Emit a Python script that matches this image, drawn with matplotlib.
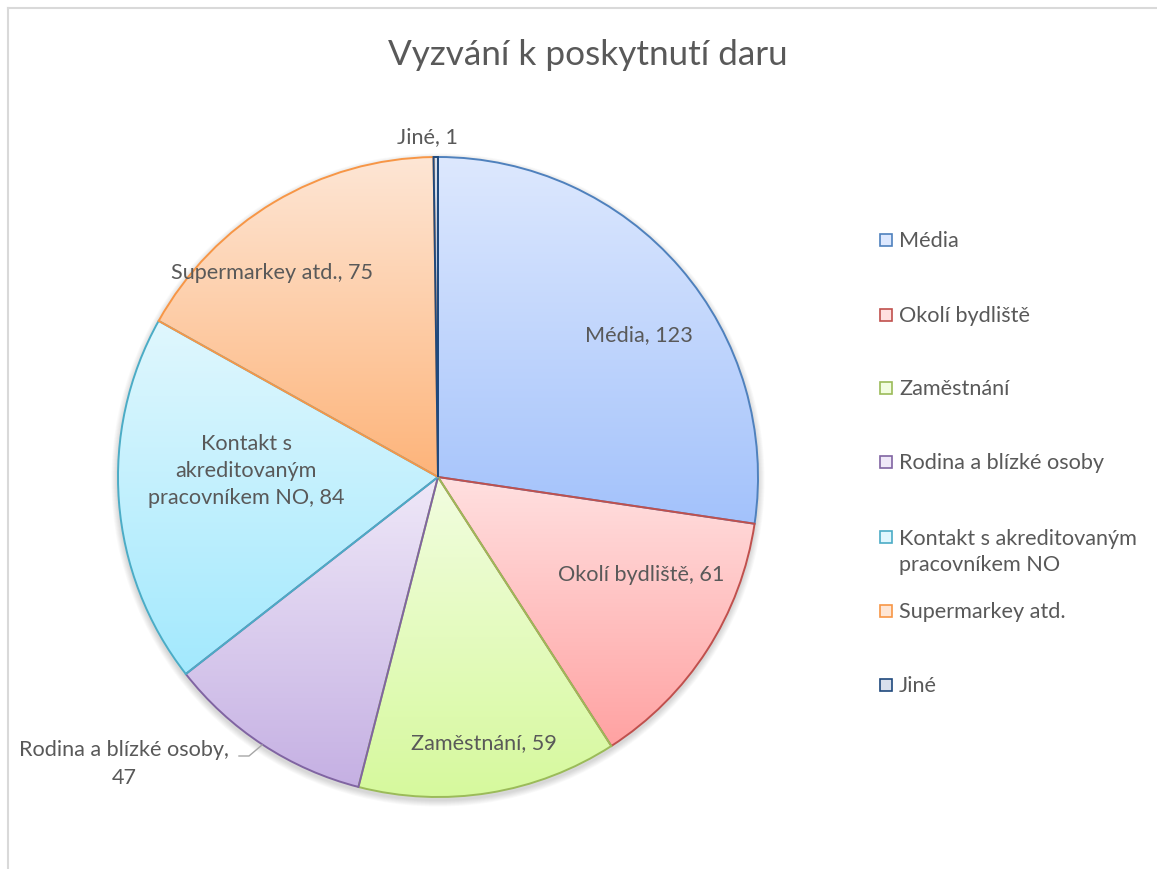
import matplotlib.pyplot as plt
import numpy as np
from matplotlib.colors import LinearSegmentedColormap
from matplotlib.patches import Circle, Rectangle

plt.rcParams['font.family'] = ['Lato', 'DejaVu Sans']

# Data from the chart
labels = ["Média", "Okolí bydliště", "Zaměstnání", "Rodina a blízké osoby",
          "Kontakt s akreditovaným pracovníkem NO", "Supermarkey atd.", "Jiné"]
values = [123, 61, 59, 47, 84, 75, 1]

# label texts as shown on the slices / in the legend
slice_texts = ["Média, 123", "Okolí bydliště, 61", "Zaměstnání, 59",
               "Rodina a blízké osoby,\n47", "Kontakt s\nakreditovaným\npracovníkem NO, 84",
               "Supermarkey atd., 75", "Jiné, 1"]
legend_texts = ["Média", "Okolí bydliště", "Zaměstnání", "Rodina a blízké osoby",
                "Kontakt s akreditovaným\npracovníkem NO", "Supermarkey atd.", "Jiné"]

# styles
edge_colors = ['#4f81bd', '#c0504d', '#9bbb59', '#8064a2', '#4bacc6', '#f79646', '#1f497d']
grad_top = ['#dde8fe', '#ffe0e0', '#f2fde0', '#efe8f8', '#e0f7fe', '#fee6d5', '#d9e0ec']
grad_bot = ['#a3c2fb', '#ffa2a2', '#d6f99d', '#c5b0e3', '#a3e9fd', '#fdb47a', '#8aa0c4']

W, H = 1157, 870
TEXT = '#595959'
FS = 15.6

fig = plt.figure(figsize=(W / 100, H / 100), dpi=100)
ax = fig.add_axes([0, 0, 1, 1])

cx, cy, R = 438, H - 478, 320

# chart area border (only top and left visible)
ax.plot([8, W], [H - 9, H - 9], color='#d9d9d9', lw=1.5)
ax.plot([8, 8], [H - 9, 0], color='#d9d9d9', lw=1.5)

# soft shadow under the pie
for k in range(8):
    ax.add_patch(Circle((cx, cy - 3), R + 1 + k * 0.8, color='black',
                        alpha=0.018, lw=0, zorder=1))

wedges, _ = ax.pie(values, center=(cx, cy), radius=R, startangle=90,
                   counterclock=False, frame=True,
                   wedgeprops=dict(linewidth=1.4, zorder=2))

grad = np.linspace(0, 1, 256).reshape(-1, 1)
for i, w in enumerate(wedges):
    w.set_facecolor('none')
    w.set_edgecolor(edge_colors[i])
    w.set_zorder(4)
    ext = w.get_path().get_extents()
    cmap = LinearSegmentedColormap.from_list('g%d' % i, [grad_top[i], grad_bot[i]])
    im = ax.imshow(grad, cmap=cmap, aspect='auto', origin='upper',
                   extent=[ext.x0, ext.x1, ext.y0, ext.y1], zorder=3)
    im.set_clip_path(w)

ax.set_xlim(0, W)
ax.set_ylim(0, H)
ax.set_aspect('equal')
ax.axis('off')

# data labels
label_pos = [(639, 335), (641, 575), (484, 743), (124, 764), (246, 471), (272, 273), (427, 137)]
for t, (x, y) in zip(slice_texts, label_pos):
    ax.text(x, H - y, t, ha='center', va='center', fontsize=FS, color=TEXT,
            linespacing=1.45, zorder=6)

# leader line for Rodina
ax.plot([239, 249, 262], [H - 757, H - 757, H - 746], color='#a6a6a6', lw=1, zorder=6)

# title
ax.text(588, H - 55, "Vyzvání k poskytnutí daru", ha='center', va='center',
        fontsize=25.3, color=TEXT)

# legend
legend_y = [241, 316, 389, 463, 538, 612, 686]
for i, (t, y) in enumerate(zip(legend_texts, legend_y)):
    ax.add_patch(Rectangle((880, H - y - 6), 12, 12, facecolor=grad_top[i],
                           edgecolor=edge_colors[i], lw=1.2))
    ty = y + 14 if '\n' in t else y
    ax.text(899, H - ty, t, ha='left', va='center',
            fontsize=FS, color=TEXT, linespacing=1.4)

fig.savefig('out.png', dpi=100)
